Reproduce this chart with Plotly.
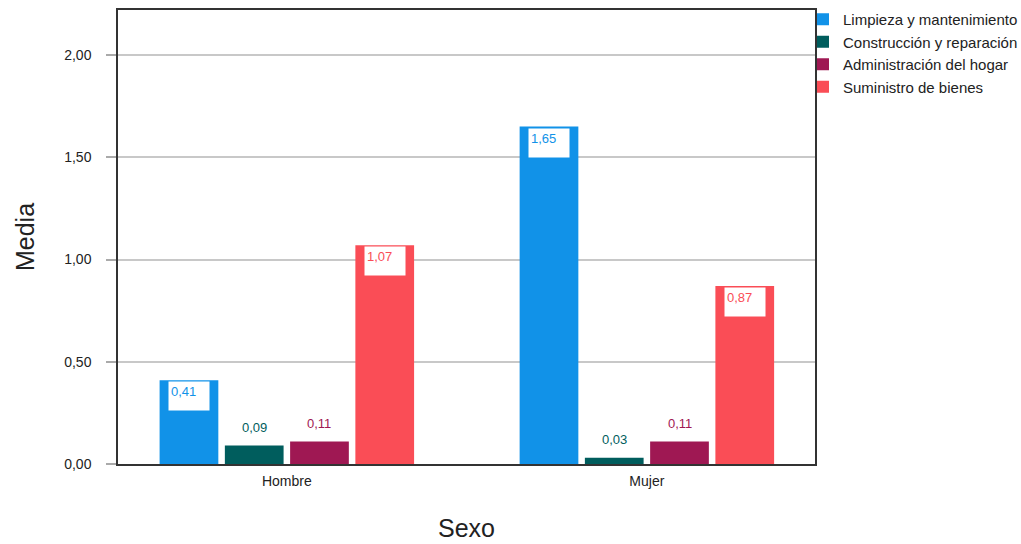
import plotly.graph_objects as go

categories = ["Hombre", "Mujer"]
series_names = ["Limpieza y mantenimiento", "Construcción y reparación",
                "Administración del hogar", "Suministro de bienes"]
values = {
    "Limpieza y mantenimiento": [0.41, 1.65],
    "Construcción y reparación": [0.09, 0.03],
    "Administración del hogar": [0.11, 0.11],
    "Suministro de bienes": [1.07, 0.87],
}
colors = ["#1192e8", "#005d5d", "#9f1853", "#fa4d56"]
y_ticks = [0, 0.5, 1.0, 1.5, 2.0]

FONT = "Liberation Sans, Arial, sans-serif"
bargap = 0.275
bargroupgap = 0.1
n = len(series_names)
group_w = 1 - bargap
slot = group_w / n

fig = go.Figure()
annotations = []
xpos = list(range(len(categories)))
for i, name in enumerate(series_names):
    fig.add_trace(go.Bar(
        x=xpos, y=values[name], name=name,
        marker=dict(color=colors[i], line=dict(width=0)),
    ))
    off = -group_w / 2 + slot * (i + 0.5)
    for j, v in enumerate(values[name]):
        lab = f"{v:.2f}".replace(".", ",")
        if v > 0.3:
            annotations.append(dict(
                x=xpos[j] + off, y=v, xref="x", yref="y", text=lab,
                showarrow=False, yanchor="top", xanchor="center", yshift=-1,
                bgcolor="white", width=36, height=24, align="left", valign="top",
                borderpad=2, font=dict(family=FONT, size=13, color=colors[i]),
            ))
        else:
            annotations.append(dict(
                x=xpos[j] + off, y=v, xref="x", yref="y", text=lab,
                showarrow=False, yanchor="bottom", xanchor="center", yshift=9,
                font=dict(family=FONT, size=13, color=colors[i]),
            ))

fig.update_layout(
    width=1021, height=544,
    margin=dict(l=118, r=206, t=10, b=80, autoexpand=False),
    paper_bgcolor="white", plot_bgcolor="white",
    barmode="group", bargap=bargap, bargroupgap=bargroupgap,
    separators=",.",
    font=dict(family=FONT, size=12, color="#222"),
    annotations=annotations,
    legend=dict(x=1 - 12 / 697, y=1 + 7 / 454, xanchor="left", yanchor="top",
                font=dict(family=FONT, size=15, color="#222"),
                itemwidth=30, tracegroupgap=0, bgcolor="rgba(0,0,0,0)"),
    xaxis=dict(
        range=[-0.469, 1.467], tickvals=xpos, ticktext=categories,
        showgrid=False, showline=True, mirror=True, linecolor="#333", linewidth=1.5,
        ticks="", tickfont=dict(family=FONT, size=14, color="#222"),
        ticklabelstandoff=3,
        title=dict(text="Sexo", font=dict(family=FONT, size=25, color="#222"), standoff=32),
        zeroline=False,
    ),
    yaxis=dict(
        range=[0, 2.22], tickvals=y_ticks, tickformat=".2f",
        showgrid=True, gridcolor="#c8c8c8", gridwidth=1.5,
        showline=True, mirror=True, linecolor="#333", linewidth=1.5,
        ticks="outside", ticklen=10, tickcolor="#aaa", tickwidth=1.5,
        tickfont=dict(family=FONT, size=14, color="#222"),
        ticklabelstandoff=12,
        title=dict(text="Media", font=dict(family=FONT, size=25, color="#222"), standoff=22),
        zeroline=False,
    ),
)

fig.write_html("out.html")
